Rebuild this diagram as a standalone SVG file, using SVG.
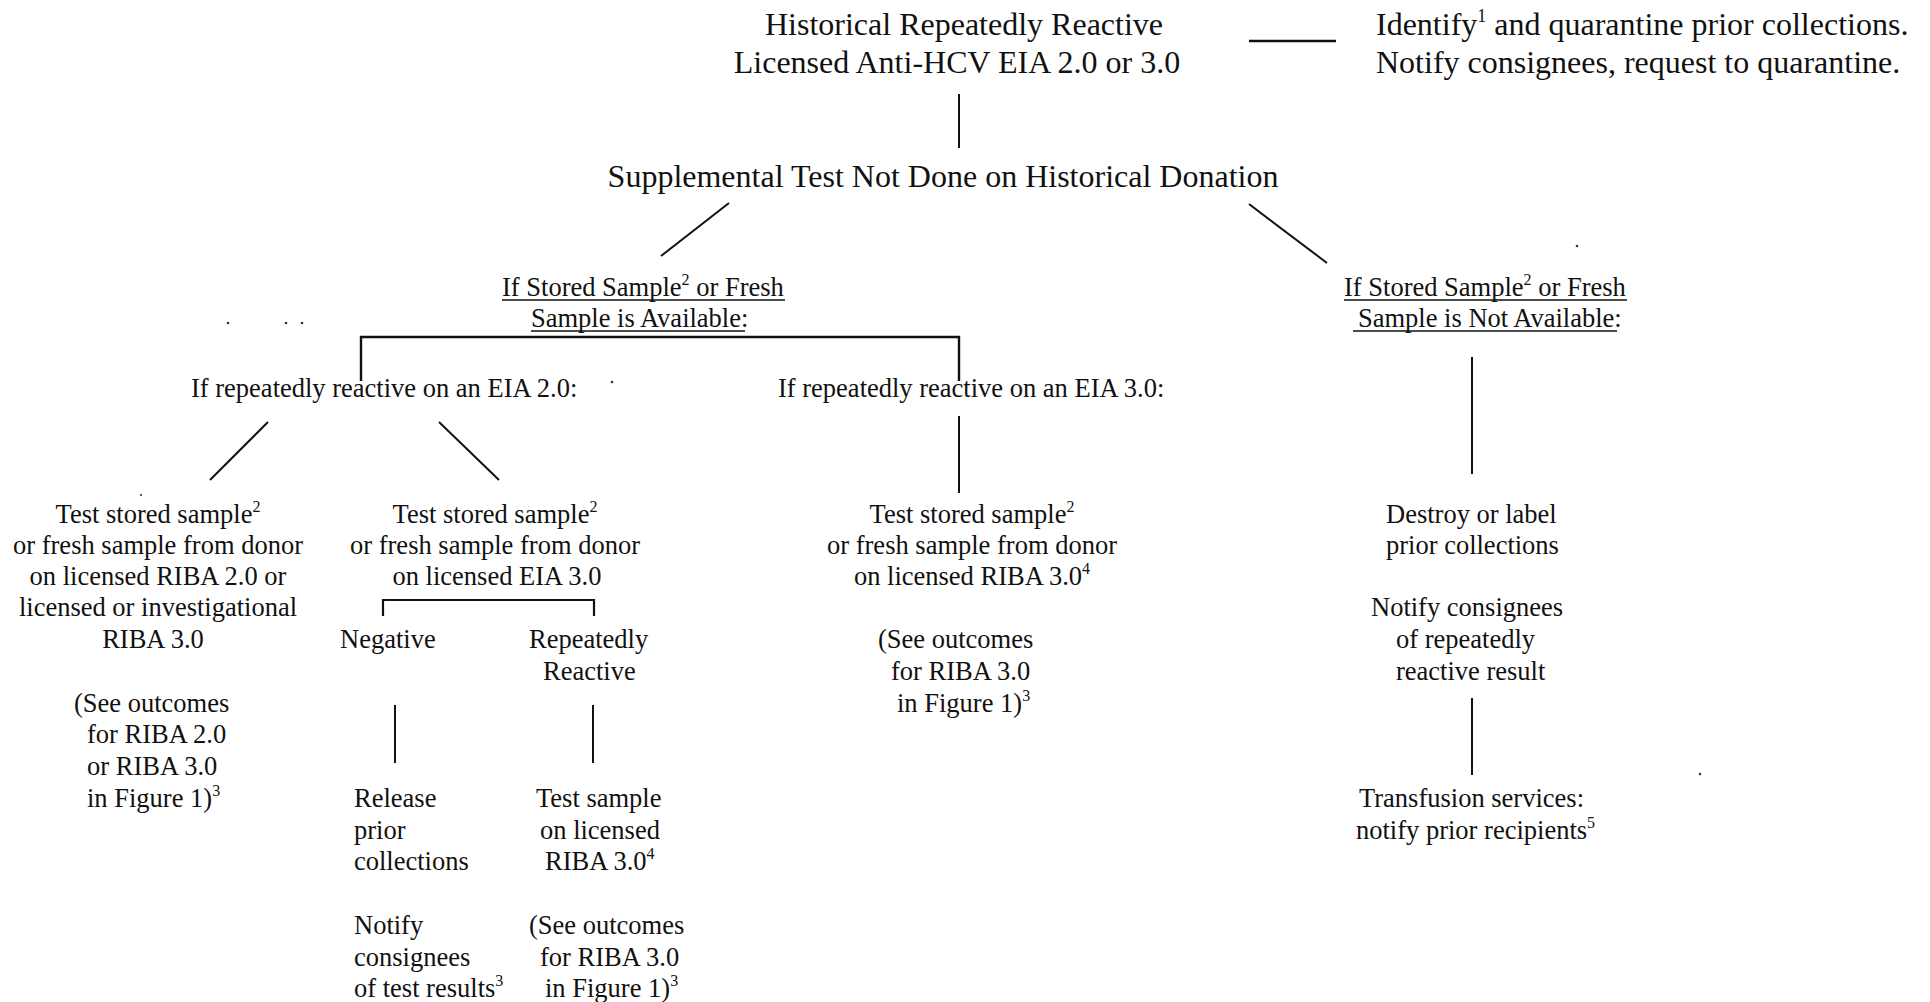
<svg xmlns="http://www.w3.org/2000/svg" width="1930" height="1002" viewBox="0 0 1930 1002">
<style>
  text { font-family: "Liberation Serif", "Times New Roman", serif; fill: #111; }
  .big { font-size: 32px; }
  .t { font-size: 26.5px; }
  .mid { text-anchor: middle; }
  .ln { stroke: #111; stroke-width: 2; fill: none; }
  .ul { stroke: #111; stroke-width: 1.6; }
  .dot { fill: #333; }
</style>
<rect width="1930" height="1002" fill="#fff"/>

<g id="connectors">
  <line class="ln" x1="1249" y1="41" x2="1336" y2="41" style="stroke-width:2.4"/>
  <line class="ln" x1="959" y1="94" x2="959" y2="148"/>
  <line class="ln" x1="729" y1="203" x2="661" y2="256"/>
  <line class="ln" x1="1249" y1="204" x2="1327" y2="263"/>
  <polyline class="ln" points="361,381 361,337 959,337 959,381" style="stroke-width:2.4"/>
  <line class="ln" x1="268" y1="422" x2="210" y2="480"/>
  <line class="ln" x1="439" y1="422" x2="499" y2="480"/>
  <line class="ln" x1="959" y1="416" x2="959" y2="493"/>
  <polyline class="ln" points="383,616 383,600 594,600 594,616" style="stroke-width:2.2"/>
  <line class="ln" x1="395" y1="705" x2="395" y2="763"/>
  <line class="ln" x1="593" y1="705" x2="593" y2="763"/>
  <line class="ln" x1="1472" y1="357" x2="1472" y2="474"/>
  <line class="ln" x1="1472" y1="698" x2="1472" y2="775"/>
</g>

<g id="n-title">
  <text class="big mid" x="964" y="35">Historical Repeatedly Reactive</text>
  <text class="big mid" x="957" y="73">Licensed Anti-HCV EIA 2.0 or 3.0</text>
</g>

<g id="n-note">
  <text class="big" x="1376" y="35">Identify<tspan font-size="18" dy="-13">1</tspan><tspan dy="13"> and quarantine prior collections.</tspan></text>
  <text class="big" x="1376" y="73">Notify consignees, request to quarantine.</text>
</g>

<g id="n-supp">
  <text class="big mid" x="943" y="187">Supplemental Test Not Done on Historical Donation</text>
</g>

<g id="n-avail">
  <text class="t" x="502" y="296">If Stored Sample<tspan font-size="16" dy="-11">2</tspan><tspan dy="11"> or Fresh</tspan></text>
  <text class="t" x="531" y="327">Sample is Available:</text>
  <line class="ul" x1="502" y1="300" x2="785" y2="300"/>
  <line class="ul" x1="531" y1="331" x2="745" y2="331"/>
</g>

<g id="n-notavail">
  <text class="t" x="1344" y="296">If Stored Sample<tspan font-size="16" dy="-11">2</tspan><tspan dy="11"> or Fresh</tspan></text>
  <text class="t" x="1358" y="327">Sample is Not Available:</text>
  <line class="ul" x1="1344" y1="300" x2="1627" y2="300"/>
  <line class="ul" x1="1353" y1="331" x2="1617" y2="331"/>
</g>

<g id="n-eia2">
  <text class="t" x="191" y="397">If repeatedly reactive on an EIA 2.0:</text>
</g>

<g id="n-eia3">
  <text class="t" x="778" y="397">If repeatedly reactive on an EIA 3.0:</text>
</g>

<g id="n-riba2">
  <text class="t mid" x="158" y="523">Test stored sample<tspan font-size="16" dy="-11">2</tspan></text>
  <text class="t mid" x="158" y="554">or fresh sample from donor</text>
  <text class="t mid" x="158" y="585">on licensed RIBA 2.0 or</text>
  <text class="t mid" x="158" y="616">licensed or investigational</text>
  <text class="t mid" x="153" y="648">RIBA 3.0</text>
  <text class="t" x="74" y="712">(See outcomes</text>
  <text class="t" x="87" y="743">for RIBA 2.0</text>
  <text class="t" x="87" y="775">or RIBA 3.0</text>
  <text class="t" x="87" y="807">in Figure 1)<tspan font-size="16" dy="-11">3</tspan></text>
</g>

<g id="n-eia30test">
  <text class="t mid" x="495" y="523">Test stored sample<tspan font-size="16" dy="-11">2</tspan></text>
  <text class="t mid" x="495" y="554">or fresh sample from donor</text>
  <text class="t mid" x="497" y="585">on licensed EIA 3.0</text>
</g>

<g id="n-negative">
  <text class="t" x="340" y="648">Negative</text>
</g>

<g id="n-rr">
  <text class="t" x="529" y="648">Repeatedly</text>
  <text class="t" x="543" y="680">Reactive</text>
</g>

<g id="n-release">
  <text class="t" x="354" y="807">Release</text>
  <text class="t" x="354" y="839">prior</text>
  <text class="t" x="354" y="870">collections</text>
  <text class="t" x="354" y="934">Notify</text>
  <text class="t" x="354" y="966">consignees</text>
  <text class="t" x="354" y="997">of test results<tspan font-size="16" dy="-11">3</tspan></text>
</g>

<g id="n-testriba3">
  <text class="t" x="536" y="807">Test sample</text>
  <text class="t" x="540" y="839">on licensed</text>
  <text class="t" x="545" y="870">RIBA 3.0<tspan font-size="16" dy="-11">4</tspan></text>
  <text class="t" x="529" y="934">(See outcomes</text>
  <text class="t" x="540" y="966">for RIBA 3.0</text>
  <text class="t" x="545" y="997">in Figure 1)<tspan font-size="16" dy="-11">3</tspan></text>
</g>

<g id="n-riba3">
  <text class="t mid" x="972" y="523">Test stored sample<tspan font-size="16" dy="-11">2</tspan></text>
  <text class="t mid" x="972" y="554">or fresh sample from donor</text>
  <text class="t mid" x="972" y="585">on licensed RIBA 3.0<tspan font-size="16" dy="-11">4</tspan></text>
  <text class="t" x="878" y="648">(See outcomes</text>
  <text class="t" x="891" y="680">for RIBA 3.0</text>
  <text class="t" x="897" y="712">in Figure 1)<tspan font-size="16" dy="-11">3</tspan></text>
</g>

<g id="n-destroy">
  <text class="t" x="1386" y="523">Destroy or label</text>
  <text class="t" x="1386" y="554">prior collections</text>
  <text class="t" x="1371" y="616">Notify consignees</text>
  <text class="t" x="1396" y="648">of repeatedly</text>
  <text class="t" x="1396" y="680">reactive result</text>
</g>

<g id="n-transfusion">
  <text class="t" x="1359" y="807">Transfusion services:</text>
  <text class="t" x="1356" y="839">notify prior recipients<tspan font-size="16" dy="-11">5</tspan></text>
</g>

<g id="specks">
  <circle class="dot" cx="228" cy="323" r="1.3"/>
  <circle class="dot" cx="286" cy="323" r="1.3"/>
  <circle class="dot" cx="302" cy="323" r="1.3"/>
  <circle class="dot" cx="612" cy="382" r="1.3"/>
  <circle class="dot" cx="1577" cy="246" r="1.3"/>
  <circle class="dot" cx="1700" cy="774" r="1.2"/>
  <circle class="dot" cx="141" cy="495" r="1.1"/>
</g>
</svg>
